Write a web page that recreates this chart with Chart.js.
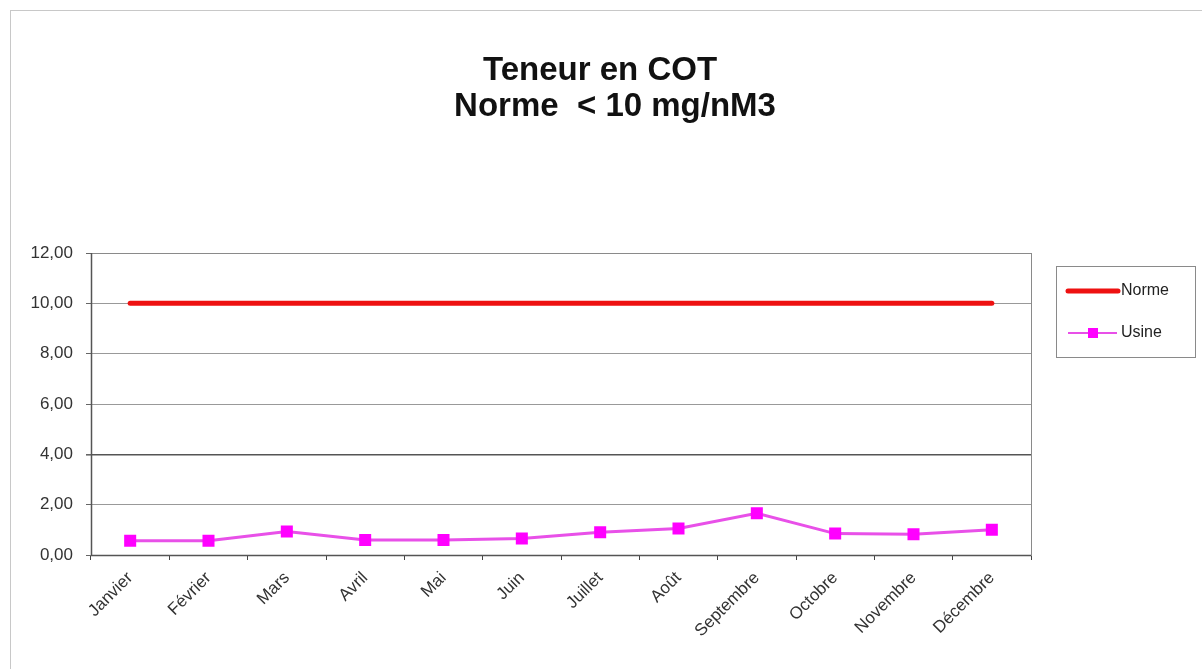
<!DOCTYPE html>
<html>
<head>
<meta charset="utf-8">
<script src="https://cdn.jsdelivr.net/npm/chart.js@4"></script>
<style>
    html, body { margin: 0; padding: 0; background: #fff; }
    #frame { position: absolute; left: 10px; top: 10px; width: 1200px; height: 670px;
             border-left: 1px solid #c8c8c8; border-top: 1px solid #c8c8c8; }
    #wrap { position: absolute; left: 0; top: 0; width: 1202px; height: 669px; }
</style>
</head>
<body>
<div id="frame"></div>
<div id="wrap"><canvas id="cotChart" width="1202" height="669"></canvas></div>
<script>
const months = ["Janvier", "Février", "Mars", "Avril", "Mai", "Juin", "Juillet",
                "Août", "Septembre", "Octobre", "Novembre", "Décembre"];
const normeValues = [10, 10, 10, 10, 10, 10, 10, 10, 10, 10, 10, 10];
const usineValues = [0.57, 0.57, 0.93, 0.6, 0.6, 0.66, 0.9, 1.05, 1.66, 0.85, 0.82, 1.0];
const titleLines = ["Teneur en COT", "Norme  < 10 mg/nM3"];
const yTicks = [0, 2, 4, 6, 8, 10, 12];

const fontFamily = "'Liberation Sans', Arial, sans-serif";

// title, frame around the plot and a hand-made legend box on the right
const chartDecor = {
    id: "chartDecor",
    afterDraw(chart) {
        const { ctx, chartArea: a } = chart;
        ctx.save();

        ctx.fillStyle = "#111";
        ctx.font = "bold 33px " + fontFamily;
        ctx.textAlign = "center";
        ctx.textBaseline = "middle";
        ctx.fillText(titleLines[0], 600, 71);
        ctx.fillText(titleLines[1], 615, 107);

        ctx.strokeStyle = "#8a8a8a";
        ctx.lineWidth = 1;
        ctx.strokeRect(a.left + 0.5, a.top + 0.5, a.right - a.left, a.bottom - a.top);
        ctx.strokeStyle = "#555";
        ctx.lineWidth = 1.5;
        ctx.beginPath();
        ctx.moveTo(a.left, a.bottom + 0.5);
        ctx.lineTo(a.right, a.bottom + 0.5);
        ctx.moveTo(a.left + 0.5, a.top);
        ctx.lineTo(a.left + 0.5, a.bottom);
        ctx.stroke();

        // legend
        const lx = 1056, ly = 266;
        ctx.strokeStyle = "#8a8a8a";
        ctx.lineWidth = 1;
        ctx.strokeRect(lx + 0.5, ly + 0.5, 139, 91);
        const ds = chart.data.datasets;
        ctx.font = "16px " + fontFamily;
        ctx.textAlign = "left";
        ctx.fillStyle = "#222";

        ctx.strokeStyle = ds[0].borderColor;
        ctx.lineWidth = 5;
        ctx.lineCap = "round";
        ctx.beginPath();
        ctx.moveTo(1068, 291);
        ctx.lineTo(1118, 291);
        ctx.stroke();
        ctx.fillText(ds[0].label, 1121, 291);

        ctx.strokeStyle = ds[1].borderColor;
        ctx.lineWidth = 2;
        ctx.lineCap = "butt";
        ctx.beginPath();
        ctx.moveTo(1068, 333);
        ctx.lineTo(1117, 333);
        ctx.stroke();
        ctx.fillStyle = ds[1].pointBackgroundColor;
        ctx.fillRect(1088, 328, 10, 10);
        ctx.fillStyle = "#222";
        ctx.fillText(ds[1].label, 1121, 333);
        ctx.restore();
    }
};

new Chart(document.getElementById("cotChart"), {
    type: "line",
    data: {
        labels: months,
        datasets: [{
            label: "Norme",
            data: normeValues,
            borderColor: "#ee1111",
            borderWidth: 5,
            pointRadius: 0,
            borderCapStyle: "round",
            fill: false,
            tension: 0
        }, {
            label: "Usine",
            data: usineValues,
            borderColor: "#e850e8",
            borderWidth: 3,
            pointStyle: "rect",
            pointRadius: 8.5,
            pointBackgroundColor: "#ff00ff",
            pointBorderColor: "#ff00ff",
            pointBorderWidth: 0,
            fill: false,
            tension: 0
        }]
    },
    options: {
        responsive: false,
        animation: false,
        devicePixelRatio: 1,
        layout: { padding: { left: 0, right: 171, top: 253, bottom: 0 } },
        plugins: {
            legend: { display: false },
            tooltip: { enabled: false },
            title: { display: false }
        },
        scales: {
            x: {
                offset: true,
                grid: {
                    offset: true,
                    drawOnChartArea: false,
                    drawTicks: true,
                    tickLength: 5,
                    color: "#444"
                },
                border: { display: false },
                ticks: {
                    minRotation: 45,
                    maxRotation: 45,
                    autoSkip: false,
                    color: "#333",
                    padding: 8,
                    font: { family: fontFamily, size: 17 }
                },
                afterFit(scale) { scale.height = 114; }
            },
            y: {
                min: 0,
                max: 12,
                afterBuildTicks(scale) { scale.ticks = yTicks.map(v => ({ value: v })); },
                grid: {
                    color: ctx => (ctx.tick && ctx.tick.value === 4 ? "#555" : "#999"),
                    lineWidth: ctx => (ctx.tick && ctx.tick.value === 4 ? 1.6 : 1),
                    tickLength: 5,
                    tickColor: "#666"
                },
                border: { display: false },
                ticks: {
                    color: "#333",
                    padding: 13,
                    font: { family: fontFamily, size: 17 },
                    callback: v => v.toFixed(2).replace(".", ",")
                },
                afterFit(scale) { scale.width = 91; }
            }
        }
    },
    plugins: [chartDecor]
});
</script>
</body>
</html>
